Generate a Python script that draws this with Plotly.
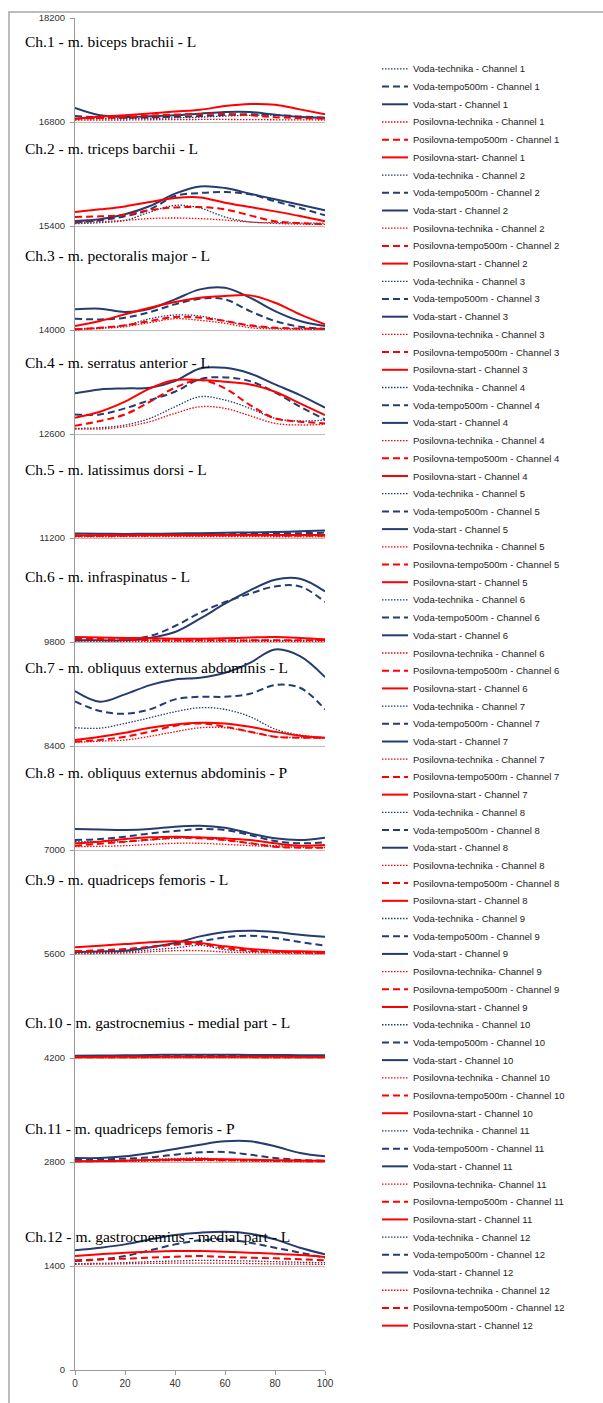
import plotly.graph_objects as go

# ---------------- data ----------------
X = [0, 10, 20, 30, 40, 50, 60, 70, 80, 90, 100]
X_TICKS = [0, 20, 40, 60, 80, 100]
Y_TICKS = [0, 1400, 2800, 4200, 5600, 7000, 8400, 9800, 11200, 12600, 14000, 15400, 16800, 18200]

# offset (baseline) of every channel in the stacked chart
CHANNEL_BASE = [16800, 15400, 14000, 12600, 11200, 9800, 8400, 7000, 5600, 4200, 2800, 1400]

CHANNEL_TITLES = [
    "Ch.1 - m. biceps brachii - L",
    "Ch.2 - m. triceps barchii - L",
    "Ch.3 - m. pectoralis major - L",
    "Ch.4 - m. serratus anterior - L",
    "Ch.5 - m. latissimus dorsi - L",
    "Ch.6 - m. infraspinatus - L",
    "Ch.7 - m. obliquus externus abdominis - L",
    "Ch.8 - m. obliquus externus abdominis - P",
    "Ch.9 - m. quadriceps femoris - L",
    "Ch.10 - m. gastrocnemius - medial part - L",
    "Ch.11 - m. quadriceps femoris - P",
    "Ch.12 - m. gastrocnemius - medial part - L",
]

SERIES = ["Voda-technika", "Voda-tempo500m", "Voda-start",
          "Posilovna-technika", "Posilovna-tempo500m", "Posilovna-start"]

# amplitude above channel baseline, order as SERIES
CH1 = [[45, 45, 45, 48, 55, 65, 80, 90, 90, 70, 55],
       [80, 62, 58, 62, 70, 80, 95, 103, 95, 75, 58],
       [188, 90, 67, 76, 90, 112, 134, 134, 99, 67, 58],
       [27, 27, 27, 30, 32, 34, 34, 32, 30, 28, 27],
       [45, 55, 70, 85, 100, 108, 110, 90, 65, 52, 45],
       [45, 70, 90, 115, 140, 165, 215, 242, 233, 170, 103]]
CH2 = [[31, 45, 76, 188, 278, 242, 121, 54, 45, 40, 40],
       [45, 76, 130, 224, 403, 444, 457, 426, 332, 242, 143],
       [67, 90, 157, 269, 435, 533, 511, 435, 359, 287, 211],
       [45, 58, 76, 100, 108, 99, 80, 54, 35, 25, 22],
       [121, 130, 150, 215, 250, 255, 224, 143, 63, 40, 22],
       [188, 224, 264, 323, 376, 385, 314, 255, 197, 134, 63]]
CH3 = [[18, 30, 63, 152, 202, 188, 121, 54, 25, 18, 18],
       [152, 143, 166, 242, 345, 421, 412, 255, 121, 45, 18],
       [278, 287, 242, 287, 412, 547, 569, 435, 255, 121, 54],
       [0, 20, 45, 100, 152, 130, 90, 31, 15, 10, 9],
       [9, 30, 63, 121, 175, 166, 121, 63, 31, 20, 18],
       [54, 121, 211, 300, 376, 435, 457, 466, 367, 211, 76]]
CH4 = [[76, 85, 121, 211, 367, 502, 457, 345, 211, 175, 188],
       [264, 264, 345, 457, 569, 739, 762, 712, 560, 367, 197],
       [547, 600, 614, 623, 712, 883, 891, 815, 667, 524, 354],
       [67, 67, 99, 166, 278, 367, 345, 246, 143, 121, 130],
       [112, 175, 264, 435, 623, 726, 614, 390, 211, 166, 143],
       [220, 300, 435, 614, 726, 726, 703, 667, 569, 412, 255]]
CH5 = [[25, 26, 28, 29, 30, 30, 32, 34, 36, 38, 40],
       [30, 32, 35, 38, 42, 45, 50, 55, 60, 65, 70],
       [60, 57, 55, 57, 60, 65, 70, 75, 80, 90, 100],
       [15, 16, 18, 19, 20, 20, 20, 18, 17, 16, 15],
       [30, 31, 33, 34, 35, 35, 35, 34, 32, 31, 30],
       [35, 36, 38, 39, 40, 40, 40, 40, 40, 40, 40]]
CH6 = [[22, 22, 22, 22, 25, 26, 25, 24, 23, 22, 22],
       [22, 30, 36, 81, 215, 394, 538, 650, 748, 748, 538],
       [22, 22, 22, 54, 134, 314, 515, 694, 838, 851, 681],
       [9, 9, 9, 10, 10, 10, 10, 10, 10, 9, 9],
       [54, 40, 30, 25, 22, 22, 22, 22, 24, 24, 24],
       [67, 60, 55, 50, 45, 45, 50, 60, 67, 55, 36]]
CH7 = [[246, 240, 304, 381, 461, 515, 493, 394, 228, 148, 112],
       [600, 470, 434, 493, 628, 663, 663, 703, 820, 784, 493],
       [739, 596, 695, 820, 896, 918, 985, 1120, 1300, 1210, 927],
       [49, 65, 81, 130, 192, 246, 246, 192, 125, 112, 103],
       [58, 81, 125, 192, 273, 304, 259, 192, 125, 112, 112],
       [81, 125, 179, 246, 290, 313, 304, 259, 192, 138, 112]]
CH8 = [[112, 112, 112, 135, 157, 166, 134, 90, 58, 58, 58],
       [134, 148, 179, 224, 255, 282, 269, 202, 121, 90, 103],
       [282, 275, 269, 282, 314, 327, 300, 224, 157, 134, 166],
       [45, 50, 58, 75, 90, 90, 76, 60, 45, 35, 31],
       [58, 85, 112, 140, 166, 157, 134, 90, 45, 31, 31],
       [90, 112, 148, 170, 179, 170, 157, 134, 90, 58, 67]]
CH9 = [[13, 20, 27, 55, 81, 116, 58, 36, 25, 18, 13],
       [36, 45, 58, 95, 134, 170, 224, 246, 215, 161, 112],
       [27, 35, 45, 90, 148, 237, 296, 314, 296, 260, 233],
       [4, 8, 13, 30, 45, 45, 27, 18, 13, 8, 4],
       [36, 50, 67, 95, 125, 134, 81, 45, 27, 18, 13],
       [90, 112, 134, 157, 170, 148, 103, 67, 45, 36, 27]]
CH10 = [[15, 15, 16, 17, 18, 18, 18, 17, 16, 15, 15],
        [20, 20, 22, 25, 27, 28, 28, 27, 25, 23, 22],
        [31, 33, 36, 40, 44, 45, 44, 42, 40, 38, 36],
        [5, 5, 6, 6, 7, 7, 7, 6, 6, 5, 5],
        [10, 10, 11, 12, 13, 13, 13, 12, 11, 10, 10],
        [15, 15, 16, 17, 18, 18, 18, 17, 16, 15, 15]]
CH11 = [[9, 12, 20, 32, 45, 54, 31, 18, 12, 9, 9],
        [31, 36, 45, 63, 99, 130, 134, 99, 54, 27, 18],
        [54, 54, 76, 121, 175, 233, 278, 278, 211, 121, 76],
        [5, 6, 8, 12, 16, 18, 16, 12, 8, 6, 5],
        [9, 12, 18, 22, 27, 27, 24, 20, 15, 12, 9],
        [9, 12, 18, 26, 34, 40, 38, 31, 25, 20, 18]]
CH12 = [[31, 36, 45, 58, 67, 76, 72, 67, 58, 50, 45],
        [67, 90, 134, 211, 291, 345, 358, 314, 246, 179, 112],
        [211, 246, 291, 358, 417, 448, 461, 435, 358, 246, 157],
        [22, 25, 30, 35, 38, 40, 38, 33, 28, 25, 22],
        [76, 88, 99, 112, 125, 134, 121, 112, 103, 90, 76],
        [134, 157, 179, 193, 202, 202, 193, 179, 166, 148, 121]]

CHANNELS = [CH1, CH2, CH3, CH4, CH5, CH6, CH7, CH8, CH9, CH10, CH11, CH12]

# legend names that use "-" without a space before it
TIGHT_NAMES = {(1, "Posilovna-start"), (9, "Posilovna-technika"), (11, "Posilovna-technika")}

# label anchor (data y) for channel titles
LABEL_Y = [17890, 16442, 15000, 13566, 12119, 10686, 9462, 8041, 6609, 4681, 3253, 1801]

# ---------------- styles ----------------
NAVY = "#243C6E"
RED = "#FF0000"
STYLE = {
    "Voda-technika": dict(color=NAVY, width=1.3, dash="1.5px,1.5px"),
    "Voda-tempo500m": dict(color=NAVY, width=2, dash="7px,4px"),
    "Voda-start": dict(color=NAVY, width=2, dash="solid"),
    "Posilovna-technika": dict(color=RED, width=1.3, dash="1.5px,1.5px"),
    "Posilovna-tempo500m": dict(color=RED, width=2, dash="7px,4px"),
    "Posilovna-start": dict(color=RED, width=2, dash="solid"),
}

W, H = 603, 1403
ML, MR, MT, MB = 75, 278, 15, 33
PW, PH = W - ML - MR, H - MT - MB


def px_x(px):
    return (px - ML) / PW


def px_y(py):
    return 1 - (py - MT) / PH


fig = go.Figure()
legend_items = []
for ci, (base, amps) in enumerate(zip(CHANNEL_BASE, CHANNELS)):
    ch = ci + 1
    for name, amp in zip(SERIES, amps):
        sep = "- " if (ch, name) in TIGHT_NAMES else " - "
        label = f"{name}{sep}Channel {ch}"
        legend_items.append((label, name))
        fig.add_trace(go.Scatter(
            x=X, y=[base + a for a in amp], mode="lines", name=label,
            line=dict(shape="spline", smoothing=1.0, **STYLE[name]),
            showlegend=False, hoverinfo="name+x+y"))

# channel titles
for title, ly in zip(CHANNEL_TITLES, LABEL_Y):
    fig.add_annotation(x=px_x(23), xref="paper", y=ly, yref="y", text=title,
                       showarrow=False, xanchor="left", yanchor="middle",
                       font=dict(family="Liberation Serif", size=15.5, color="#000000"))

# legend (drawn to match the original's compact spacing)
LEG_TOP, LEG_STEP = 66, 17.74
for i, (label, name) in enumerate(legend_items):
    py = LEG_TOP + i * LEG_STEP
    st = STYLE[name]
    fig.add_shape(type="line", xref="paper", yref="paper",
                  x0=px_x(382), x1=px_x(408), y0=px_y(py), y1=px_y(py),
                  line=dict(color=st["color"], width=st["width"], dash=st["dash"]))
    fig.add_annotation(x=px_x(411), xref="paper", y=px_y(py), yref="paper", text=label,
                       showarrow=False, xanchor="left", yanchor="middle",
                       font=dict(family="Liberation Sans", size=9.5, color="#222222"))

# outer chart border
fig.add_shape(type="rect", xref="paper", yref="paper", layer="below",
              x0=px_x(9), x1=px_x(W + 10), y0=px_y(H + 10), y1=px_y(9),
              line=dict(color="#A6A6A6", width=1.5), fillcolor="rgba(0,0,0,0)")

fig.update_layout(
    width=W, height=H,
    margin=dict(l=ML, r=MR, t=MT, b=MB, pad=0),
    paper_bgcolor="white", plot_bgcolor="white",
    showlegend=False,
    font=dict(family="Liberation Sans", color="#333333"),
)
fig.update_xaxes(range=[0, 100], tickvals=X_TICKS, showgrid=False, zeroline=False,
                 showline=True, linecolor="#9A9A9A", linewidth=1,
                 ticks="outside", ticklen=4, tickcolor="#9A9A9A",
                 tickfont=dict(size=10, color="#333333"))
fig.update_yaxes(range=[0, 18200], tickvals=Y_TICKS, tickformat="d",
                 showgrid=True, gridcolor="#BDBDBD", gridwidth=1, zeroline=False,
                 showline=True, linecolor="#9A9A9A", linewidth=1,
                 ticks="outside", ticklen=4, tickcolor="#9A9A9A",
                 ticklabelstandoff=3,
                 tickfont=dict(size=9.5, color="#333333"))

fig.write_html("out.html")
